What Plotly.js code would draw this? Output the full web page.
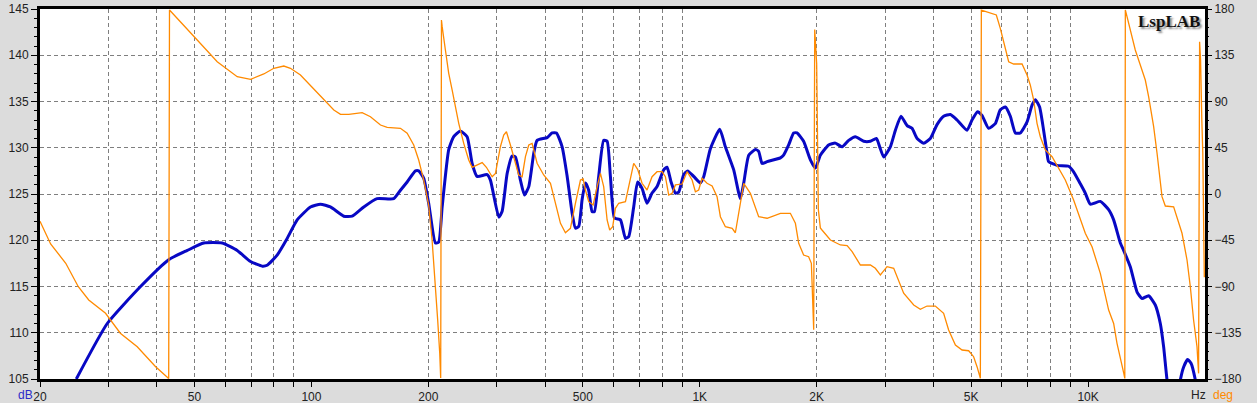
<!DOCTYPE html>
<html>
<head>
<meta charset="utf-8">
<script src="https://cdn.plot.ly/plotly-3.0.1.min.js"></script>
<style>html,body{margin:0;padding:0;background:#dcdcdc;}#chart{width:1257px;height:403px;}</style>
</head>
<body>
<div id="chart"></div>
<script>
// SPL magnitude (dB) vs frequency (Hz)
const splFreq = [24.8, 29.8, 36.3, 42.9, 47.9, 52.8, 58.9, 64.4, 69.7, 74.7, 76.9, 81.6, 86.6, 91.9, 99.4, 105.5, 111.9, 121.1, 127.3, 136.4, 147.6, 162.9, 169.5, 176.4, 185.3, 188.9, 194.6, 200.4, 208.6, 212.7, 217.1, 225.7, 232.5, 241.8, 251.7, 259.3, 267.1, 283.4, 289, 303.7, 309.7, 319.1, 328.7, 335.2, 345.3, 353.6, 362.8, 373.7, 381.2, 404.6, 416.7, 427.5, 442.2, 455.6, 469.3, 478.5, 487.9, 497.8, 507.6, 517.6, 528.1, 535.5, 549.2, 565.7, 577.3, 588.7, 603, 624.8, 643.6, 656.2, 675.9, 691.8, 710.2, 731.5, 753.6, 776.3, 807.4, 823.8, 843.6, 865.4, 882.5, 909.2, 931, 964.6, 1004, 1024, 1065, 1126, 1164, 1223, 1272, 1298, 1337, 1391, 1418, 1447, 1491, 1613, 1644, 1694, 1745, 1780, 1851, 1927, 1985, 2044, 2147, 2234, 2326, 2418, 2516, 2643, 2750, 2850, 2906, 2976, 3096, 3190, 3298, 3418, 3520, 3628, 3773, 3924, 4083, 4246, 4418, 4598, 4878, 5024, 5193, 5330, 5543, 5767, 5942, 6122, 6306, 6496, 6690, 6963, 7172, 7314, 7501, 7681, 7839, 7914, 8318, 8910, 9177, 9550, 9835, 10132, 10752, 11296, 11636, 12108, 12345, 12848, 13369, 13772, 14317, 14894, 15344, 15648, 15968, 16600, 17280, 17622, 18044, 18410, 18886, 19500];
const splDb = [105, 111.0, 115.0, 117.9, 118.9, 119.7, 119.7, 118.9, 117.7, 117.2, 117.3, 118.4, 120.2, 122.2, 123.6, 123.9, 123.6, 122.6, 122.6, 123.6, 124.5, 124.5, 125.4, 126.3, 127.5, 127.5, 126.7, 124.0, 119.7, 119.8, 123.6, 129.8, 131.2, 131.8, 131.2, 128.3, 126.9, 127.1, 126.5, 122.5, 123.1, 127.2, 129.1, 129.0, 126.5, 124.9, 125.8, 129.4, 130.8, 131.1, 131.6, 131.6, 130.1, 126.9, 122.9, 121.3, 121.5, 124.4, 126.2, 125.4, 123.1, 123.1, 126.9, 130.8, 130.7, 126.9, 122.4, 122.2, 120.2, 120.4, 123.6, 126.3, 125.6, 124.0, 125.1, 125.8, 127.6, 127.9, 126.3, 125.1, 125.2, 127.1, 127.5, 126.9, 126.2, 126.9, 129.9, 132.0, 130.1, 127.6, 124.5, 126.2, 129.2, 129.8, 129.6, 128.3, 128.5, 128.9, 129.2, 130.3, 131.6, 131.6, 130.7, 128.7, 127.8, 129.2, 130.3, 130.5, 130.1, 130.8, 131.2, 130.7, 130.7, 131.0, 130.1, 129.0, 130.1, 131.9, 133.4, 132.4, 132.1, 131.0, 130.5, 131.0, 132.5, 133.4, 133.6, 133.0, 131.9, 133.0, 133.9, 133.5, 132.1, 132.6, 134.1, 134.4, 133.4, 131.6, 131.6, 132.8, 134.6, 135.2, 134.4, 131.9, 129.4, 128.5, 128.1, 128.0, 127.4, 126.1, 125.1, 123.9, 124.2, 123.3, 122.2, 119.7, 118.9, 117.1, 114.4, 113.7, 114.0, 113.0, 111.0, 108.5, 104.9, 100, 104.9, 106.3, 107.1, 106.7, 104.9, 101];

// Phase (deg) vs frequency (Hz)
const phaseFreq = [20, 21.3, 23.3, 25.1, 26.7, 29.5, 32.2, 35.6, 39.7, 42.9, 43.1, 46.9, 50.8, 57.2, 64.4, 69.7, 75.4, 80.0, 84.9, 88.3, 93.7, 100.4, 106.6, 114.2, 118.8, 124.8, 135.1, 141.9, 150.6, 156.7, 169.5, 176.4, 183.4, 188.9, 194.6, 198.6, 200.4, 204.5, 206.6, 208.6, 211.4, 214.0, 215.2, 216.2, 217.1, 221.3, 225.7, 230.3, 234.9, 239.5, 246.7, 254.1, 259.3, 267.1, 275.2, 282.2, 292.0, 297.8, 306.6, 312.7, 317.8, 325.4, 335.2, 341.8, 348.8, 355.7, 362.8, 370.0, 381.2, 396.4, 412.6, 425.0, 437.8, 450.8, 464.4, 478.5, 492.9, 500.9, 507.6, 517.6, 531.4, 544.2, 554.9, 565.7, 577.3, 586.2, 596.8, 606.4, 618.4, 643.6, 662.6, 675.9, 691.8, 710.2, 731.5, 753.6, 776.3, 799.8, 815.6, 831.8, 848.7, 865.4, 900.6, 927.6, 955.6, 974.4, 993.6, 1014, 1044, 1076, 1108, 1130, 1164, 1212, 1235, 1260, 1298, 1350, 1418, 1491, 1613, 1711, 1763, 1798, 1851, 1907, 1938, 1953, 1965, 1977, 2000, 2020, 2044, 2064, 2170, 2302, 2396, 2468, 2592, 2750, 2832, 2918, 3036, 3158, 3252, 3350, 3556, 3698, 3848, 4042, 4246, 4374, 4553, 4737, 4925, 5073, 5176, 5279, 5310, 5600, 5803, 5942, 6122, 6244, 6432, 6760, 6963, 7097, 7240, 7387, 7532, 7760, 8076, 8398, 8736, 9177, 9550, 9835, 10236, 10752, 11296, 11636, 11870, 12108, 12345, 12432, 12470, 12596, 12972, 13228, 13628, 14038, 14317, 14750, 15048, 15500, 15808, 16606, 17452, 17978, 18334, 18692, 19074, 19254, 19370, 19482, 19626, 19740, 19918];
const phaseDeg = [-26.6, -48.6, -67.4, -90.2, -103.1, -116.1, -135.5, -148.6, -168.0, -179.5, 179, 164.4, 149.8, 128.7, 114.1, 111.6, 116.8, 122.3, 124.5, 122.3, 115.8, 103.8, 93.1, 81.7, 77.5, 77.5, 79.1, 75.2, 67.1, 64.9, 63.9, 59.1, 47.7, 33.1, 13.6, -1.0, -10.7, -44.8, -66.2, -90.2, -122.6, -155.0, -179, 169.3, 162.8, 140.1, 117.4, 101.2, 84.9, 68.8, 49.3, 33.1, 26.0, 28.2, 30.5, 26.0, 16.8, 20.1, 46.0, 57.4, 60.6, 47.7, 29.9, 18.5, 16.8, 36.3, 47.7, 49.3, 29.9, 18.5, 10.4, -9.0, -28.5, -37.7, -33.4, -9.0, 13.6, 14.6, 3.9, -7.5, -10.7, 7.1, 20.1, 7.1, -25.3, -35.0, -31.8, -13.9, -9.0, -7.5, 16.8, 29.9, 24.0, 10.4, 3.9, 16.8, 21.7, 21.7, 16.8, -1.0, 0.7, 8.8, 9.7, 21.7, 13.6, 2.2, 3.9, 15.3, 10.4, 7.8, -2.6, -22.1, -31.8, -33.4, -37.7, -18.8, 10.4, 0.7, -22.1, -23.6, -18.8, -18.8, -28.5, -48.0, -59.4, -61.0, -67.4, -103, -132, 160, 127, -15, -33, -35, -44.8, -49.6, -50.3, -56.1, -69.1, -69.1, -72.3, -78.8, -70.7, -72.3, -83.7, -96.6, -108.0, -112.2, -109.0, -109.0, -116.1, -132.3, -146.9, -151.8, -152.5, -158.3, -168.0, -179.3, 179, 175.8, 174.2, 161.2, 140.1, 128.7, 126.5, 126.5, 115.8, 106.1, 91.5, 68.8, 55.7, 42.8, 36.3, 25.0, 13.6, -5.8, -25.3, -38.2, -51.3, -77.2, -112.9, -126.0, -145.3, -158.3, -173.9, -179.5, 179, 172.5, 153.0, 140.1, 125.5, 110.9, 94.7, 65.5, 39.9, -2.6, -11.7, -12.4, -38.2, -64.2, -90.2, -122.6, -148.6, -174.5, 148.2, 130.4, 72, 40, -81];

// Axis ticks
const xTickVals = [20, 50, 100, 200, 500, 1000, 2000, 5000, 10000];
const xTickText = ['20', '50', '100', '200', '500', '1K', '2K', '5K', '10K'];
const xMinorVals = [30, 40, 50, 60, 70, 80, 90, 200, 300, 400, 500, 600, 700, 800, 900, 2000, 3000, 4000, 5000, 6000, 7000, 8000, 9000];
const xDecades = [100, 1000, 10000];

const GRID = '#7f7f7f';
const DASH = '4px,3px';

const traces = [
  {x: phaseFreq, y: phaseDeg, yaxis: 'y2', type: 'scatter', mode: 'lines',
   line: {color: '#ff8a00', width: 1.3}, hoverinfo: 'skip'},
  {x: splFreq, y: splDb, type: 'scatter', mode: 'lines',
   line: {color: '#0808c4', width: 3, shape: 'spline', smoothing: 0.5}, hoverinfo: 'skip'}
];

const layout = {
  width: 1257, height: 403,
  paper_bgcolor: '#dcdcdc', plot_bgcolor: '#ffffff',
  margin: {l: 40, r: 52, t: 9, b: 24, pad: 0},
  showlegend: false,
  font: {family: '"Liberation Sans", Arial, sans-serif', size: 12, color: '#222'},
  xaxis: {
    type: 'log', range: [Math.log10(20), Math.log10(20000)],
    tickmode: 'array', tickvals: xTickVals, ticktext: xTickText,
    ticks: 'outside', ticklen: 5, tickwidth: 1, tickcolor: '#000',
    showgrid: false, zeroline: false,
    showline: true, linecolor: '#000', linewidth: 3, mirror: true,
    minor: {tickmode: 'array', tickvals: xMinorVals, ticks: 'outside', ticklen: 5, tickcolor: '#000',
            showgrid: true, gridcolor: GRID, griddash: DASH, gridwidth: 1}
  },
  yaxis: {
    range: [105, 145], tick0: 105, dtick: 5,
    ticks: 'outside', ticklen: 6, tickcolor: '#000',
    showgrid: true, gridcolor: GRID, griddash: DASH, gridwidth: 1, zeroline: false,
    showline: true, linecolor: '#000', linewidth: 3, mirror: true,
    minor: {dtick: 1, ticks: 'outside', ticklen: 3, tickcolor: '#000', showgrid: false}
  },
  yaxis2: {
    overlaying: 'y', side: 'right', range: [-180, 180], tick0: -180, dtick: 45,
    ticks: 'outside', ticklen: 6, tickcolor: '#000',
    showgrid: false, zeroline: false, showline: false,
    minor: {dtick: 9, ticks: 'outside', ticklen: 3, tickcolor: '#000', showgrid: false}
  },
  shapes: xDecades.map(v => ({type: 'line', xref: 'x', yref: 'paper', x0: Math.log10(v), x1: Math.log10(v), y0: 0, y1: 1,
                              line: {color: GRID, width: 1.2}, layer: 'between'})),
  annotations: [
    {text: '<b>LspLAB</b>', xref: 'paper', yref: 'paper', x: 0.9695, y: 0.965, xanchor: 'center', yanchor: 'middle', showarrow: false,
     font: {family: '"Liberation Serif", "Times New Roman", serif', size: 17, color: '#111', shadow: '2px 2px 2px #8a8a8a'}},
    {text: 'dB', xref: 'paper', yref: 'paper', x: -0.0124, y: -0.043, xanchor: 'center', yanchor: 'middle', showarrow: false,
     font: {size: 12, color: '#2a2ac8'}},
    {text: 'Hz', xref: 'paper', yref: 'paper', x: 0.9944, y: -0.043, xanchor: 'center', yanchor: 'middle', showarrow: false,
     font: {size: 12, color: '#222'}},
    {text: 'deg', xref: 'paper', yref: 'paper', x: 1.0155, y: -0.043, xanchor: 'center', yanchor: 'middle', showarrow: false,
     font: {size: 12, color: '#ff8a00'}}
  ]
};

Plotly.newPlot('chart', traces, layout, {staticPlot: true, displayModeBar: false});
</script>
</body>
</html>
